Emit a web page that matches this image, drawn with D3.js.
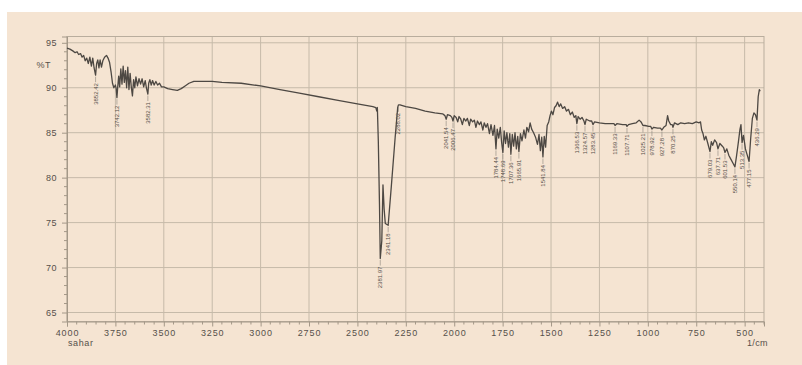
<!DOCTYPE html>
<html>
<head>
<meta charset="utf-8">
<script src="https://cdn.jsdelivr.net/npm/d3@7"></script>
<style>
  html, body { margin: 0; padding: 0; background: #ffffff; }
  svg { display: block; }
  text { font-family: "Liberation Sans", Arial, sans-serif; }
</style>
</head>
<body>
<svg id="chart" width="802" height="365"></svg>
<script>
// FTIR transmittance spectrum: [wavenumber (1/cm), %T]
const spectrum = [
  [4000, 94.4], [3985, 94.3], [3970, 94.1], [3958, 93.9], [3948, 94.0], [3940, 93.7], [3930, 93.8],
  [3922, 93.4], [3914, 93.6], [3906, 93.0], [3898, 93.3], [3890, 92.7], [3882, 93.4], [3874, 92.4],
  [3867, 93.3], [3860, 92.2], [3852.42, 91.4], [3847, 92.7], [3841, 93.1], [3835, 92.2], [3829, 93.1],
  [3822, 92.3], [3815, 93.0], [3806, 93.4], [3796, 93.6], [3788, 93.3], [3780, 92.8], [3772, 91.7],
  [3765, 90.5], [3758, 90.0], [3750, 90.3], [3746, 89.9], [3742.12, 88.9], [3738, 90.1], [3733, 91.3],
  [3728, 90.1], [3722, 92.1], [3716, 90.4], [3710, 92.4], [3704, 90.6], [3698, 91.9], [3692, 90.0],
  [3686, 92.3], [3680, 89.8], [3674, 91.6], [3668, 90.1], [3662, 89.1], [3656, 90.9], [3650, 90.0],
  [3644, 91.2], [3636, 90.2], [3628, 91.0], [3620, 90.4], [3612, 91.0], [3604, 90.1], [3596, 90.8],
  [3590, 90.0], [3582.31, 89.3], [3578, 90.5], [3572, 90.9], [3565, 90.3], [3558, 90.8], [3550, 90.3],
  [3541, 90.7], [3532, 90.3], [3522, 90.5], [3512, 90.1], [3500, 90.1], [3480, 89.9], [3455, 89.8],
  [3430, 89.7], [3410, 89.9], [3390, 90.2], [3370, 90.5], [3345, 90.7], [3300, 90.7], [3250, 90.7],
  [3200, 90.6], [3100, 90.5], [3000, 90.2], [2900, 89.8], [2800, 89.4], [2700, 89.0], [2600, 88.6],
  [2500, 88.2], [2420, 87.9], [2405, 87.8], [2400, 87.4], [2397, 87.8], [2392, 84.0], [2386, 77.0],
  [2381.97, 71.0], [2374, 73.0], [2368, 79.2], [2362, 76.5], [2356, 74.9], [2341.18, 74.7],
  [2325, 79.0], [2305, 84.5], [2292, 87.8], [2288.02, 88.1], [2280, 88.1], [2250, 87.9], [2200, 87.7],
  [2150, 87.4], [2100, 87.2], [2060, 87.1], [2048, 86.9], [2041.54, 86.5], [2035, 87.0], [2020, 86.9],
  [2012, 86.7], [2006.47, 86.3], [2000, 86.9], [1990, 86.7], [1982, 86.2], [1975, 86.8], [1966, 86.5],
  [1958, 85.9], [1950, 86.6], [1940, 86.3], [1932, 86.6], [1922, 85.8], [1915, 86.5], [1905, 86.2],
  [1896, 86.4], [1888, 85.6], [1880, 86.3], [1870, 85.9], [1862, 86.2], [1852, 85.3], [1845, 86.1],
  [1836, 85.6], [1828, 86.0], [1818, 84.9], [1810, 85.9], [1800, 84.7], [1792, 85.8], [1784.44, 83.2],
  [1778, 85.4], [1770, 84.4], [1762, 85.6], [1755, 83.9], [1748.69, 82.8], [1742, 85.2], [1735, 83.8],
  [1728, 85.0], [1720, 83.4], [1713, 84.9], [1707.36, 82.6], [1700, 84.8], [1693, 83.5], [1686, 85.0],
  [1679, 83.2], [1672, 84.6], [1665.91, 82.9], [1658, 84.9], [1650, 84.1], [1640, 85.3], [1632, 84.4],
  [1625, 85.6], [1616, 85.1], [1608, 86.1], [1600, 85.4], [1590, 85.0], [1580, 84.5], [1570, 83.7],
  [1562, 84.8], [1555, 83.0], [1548, 84.5], [1541.84, 82.3], [1535, 84.6], [1528, 83.4], [1520, 85.8],
  [1512, 86.2], [1505, 86.9], [1498, 87.4], [1490, 87.0], [1482, 87.8], [1474, 88.0], [1466, 88.4],
  [1458, 87.9], [1450, 88.2], [1440, 87.7], [1430, 87.9], [1420, 87.4], [1410, 87.6], [1400, 87.0],
  [1390, 87.3], [1380, 86.7], [1372, 86.9], [1366.53, 86.0], [1360, 86.8], [1350, 86.5], [1340, 86.7],
  [1330, 86.3], [1324.57, 85.9], [1318, 86.5], [1300, 86.3], [1290, 86.3], [1283.45, 85.9], [1275, 86.2],
  [1250, 86.1], [1220, 86.0], [1195, 86.0], [1175, 86.0], [1169.33, 85.8], [1160, 86.0], [1130, 85.9],
  [1112, 85.9], [1107.71, 85.7], [1100, 85.9], [1080, 86.0], [1060, 86.1], [1045, 86.4], [1035, 86.2],
  [1025.21, 85.8], [1015, 85.8], [995, 85.7], [985, 85.7], [978.92, 85.4], [970, 85.6], [950, 85.5],
  [935, 85.5], [927.28, 85.3], [918, 85.6], [906, 85.8], [898, 86.9], [892, 86.3], [882, 85.9],
  [874, 85.9], [870.25, 85.6], [862, 86.1], [845, 85.9], [830, 86.1], [810, 86.0], [790, 86.1],
  [770, 86.0], [750, 86.2], [735, 86.1], [728, 86.2], [722, 85.3], [715, 84.9], [708, 84.2], [700, 84.6],
  [690, 83.8], [679.03, 82.9], [672, 84.0], [665, 83.6], [655, 84.2], [645, 83.9], [637.71, 83.2],
  [628, 83.8], [615, 83.5], [608, 83.3], [601.53, 82.8], [592, 83.2], [582, 82.5], [570, 82.0],
  [560, 81.6], [550.14, 81.2], [542, 82.4], [532, 84.0], [524, 85.4], [519, 85.9], [513.35, 83.9],
  [506, 84.7], [496, 83.2], [485, 82.4], [477.15, 81.8], [469, 84.3], [460, 86.6], [452, 87.2],
  [444, 87.0], [436.29, 86.4], [430, 89.0], [424, 89.8], [420, 89.6]
];

// Picked peaks (1/cm)
const peakWavenumbers = [
  3852.42, 3742.12, 3582.31, 2381.97, 2341.18, 2288.02, 2041.54, 2006.47,
  1784.44, 1748.69, 1707.36, 1665.91, 1541.84, 1366.53, 1324.57, 1283.45,
  1169.33, 1107.71, 1025.21, 978.92, 927.28, 870.25, 679.03, 637.71,
  601.53, 550.14, 513.35, 477.15, 436.29
];

const xTicks = [4000, 3750, 3500, 3250, 3000, 2750, 2500, 2250, 2000, 1750, 1500, 1250, 1000, 750, 500];
const yTicks = [65, 70, 75, 80, 85, 90, 95];
const xDomain = [4000, 400];
const yDomain = [64, 95.7];

const svg = d3.select("#chart");
const W = 802, H = 365;
const plot = { left: 67, right: 764, top: 36.5, bottom: 321.5 };

const x = d3.scaleLinear().domain(xDomain).range([plot.left, plot.right]);
const y = d3.scaleLinear().domain(yDomain).range([plot.bottom, plot.top]);

// paper panel
svg.append("rect").attr("x", 7).attr("y", 12).attr("width", W - 7).attr("height", H - 12)
  .attr("fill", "#f5e4d2");

const gridColor = "#c6baa9";
const axisColor = "#a49888";
const textColor = "#55504a";
const inkColor = "#4d4843";

// horizontal grid
svg.append("g").selectAll("line").data(yTicks).join("line")
  .attr("x1", plot.left).attr("x2", plot.right)
  .attr("y1", d => y(d)).attr("y2", d => y(d))
  .attr("stroke", gridColor).attr("stroke-width", 1);

// vertical grid
svg.append("g").selectAll("line").data(xTicks).join("line")
  .attr("x1", d => x(d)).attr("x2", d => x(d))
  .attr("y1", plot.top).attr("y2", plot.bottom)
  .attr("stroke", gridColor).attr("stroke-width", 1);

// frame
svg.append("rect")
  .attr("x", plot.left).attr("y", plot.top)
  .attr("width", plot.right - plot.left).attr("height", plot.bottom - plot.top)
  .attr("fill", "none").attr("stroke", "#b9ad9d").attr("stroke-width", 1);

// x axis (bottom) with minor ticks every 50
const xAxis = d3.axisBottom(x).tickValues(xTicks).tickSize(5).tickPadding(3)
  .tickFormat(d3.format("d"));
const gx = svg.append("g").attr("transform", `translate(0,${plot.bottom})`).call(xAxis);
gx.select(".domain").attr("stroke", axisColor);
gx.selectAll(".tick line").attr("stroke", axisColor);
gx.selectAll(".tick text").attr("fill", textColor).attr("font-size", 9).attr("letter-spacing", 0.9)
  .attr("font-family", "'Liberation Sans', Arial, sans-serif");
const xMinor = d3.range(4000, 399, -50).filter(v => v % 250 !== 0);
svg.append("g").selectAll("line").data(xMinor).join("line")
  .attr("x1", d => x(d)).attr("x2", d => x(d))
  .attr("y1", plot.bottom).attr("y2", plot.bottom + 3)
  .attr("stroke", axisColor);

// y axis (left) with minor ticks every 1 %T
const yAxis = d3.axisLeft(y).tickValues(yTicks).tickSize(5).tickPadding(5)
  .tickFormat(d3.format("d"));
const gy = svg.append("g").attr("transform", `translate(${plot.left},0)`).call(yAxis);
gy.select(".domain").attr("stroke", axisColor);
gy.selectAll(".tick line").attr("stroke", axisColor);
gy.selectAll(".tick text").attr("fill", textColor).attr("font-size", 9).attr("letter-spacing", 0.5)
  .attr("font-family", "'Liberation Sans', Arial, sans-serif");
const yMinor = d3.range(65, 96, 1).filter(v => v % 5 !== 0);
svg.append("g").selectAll("line").data(yMinor).join("line")
  .attr("x1", plot.left - 3).attr("x2", plot.left)
  .attr("y1", d => y(d)).attr("y2", d => y(d))
  .attr("stroke", axisColor);

// axis captions
svg.append("text").attr("x", plot.left - 16).attr("y", y(92.5) + 3)
  .attr("text-anchor", "end").attr("font-size", 9).attr("fill", textColor).attr("letter-spacing", 0.5)
  .text("%T");
svg.append("text").attr("x", plot.left + 1).attr("y", plot.bottom + 24)
  .attr("font-size", 9).attr("fill", textColor).attr("letter-spacing", 0.6)
  .text("sahar");
svg.append("text").attr("x", plot.right + 4).attr("y", plot.bottom + 24)
  .attr("text-anchor", "end").attr("font-size", 9).attr("fill", textColor).attr("letter-spacing", 0.4)
  .text("1/cm");

// spectrum trace
const line = d3.line().x(d => x(d[0])).y(d => y(d[1]));
svg.append("path").datum(spectrum)
  .attr("d", line)
  .attr("fill", "none").attr("stroke", inkColor).attr("stroke-width", 1.3)
  .attr("stroke-linejoin", "round");

// peak labels with leader lines
const tAt = w => {
  const p = spectrum.find(d => d[0] === w);
  return p ? p[1] : spectrum.reduce((a, b) => Math.abs(b[0] - w) < Math.abs(a[0] - w) ? b : a)[1];
};
const peaks = svg.append("g");
peakWavenumbers.forEach(w => {
  const px = x(w), py = y(tAt(w));
  const top = py + 8;
  peaks.append("line")
    .attr("x1", px).attr("x2", px).attr("y1", py + 1.5).attr("y2", top - 1)
    .attr("stroke", "#8a837b").attr("stroke-width", 0.6);
  peaks.append("text")
    .attr("transform", `translate(${px + 2},${top}) rotate(-90)`)
    .attr("text-anchor", "end")
    .attr("font-size", 6).attr("fill", textColor)
    .text(w.toFixed(2));
});
</script>
</body>
</html>
